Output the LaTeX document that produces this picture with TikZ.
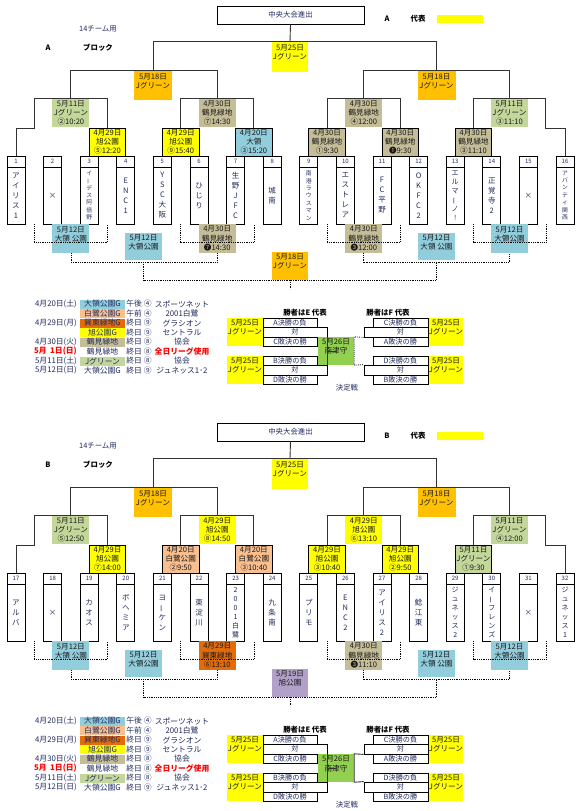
\documentclass[tikz,border=0pt]{standalone}
\usepackage{fontspec}
\setmainfont{Noto Sans CJK JP}
\usetikzlibrary{calc}

\definecolor{cyellow}{HTML}{FFFF00}
\definecolor{corange}{HTML}{FFC000}
\definecolor{cgreen}{HTML}{C4D79B}
\definecolor{ctan}{HTML}{C4BD97}
\definecolor{cblue}{HTML}{92CDDC}
\definecolor{cpeach}{HTML}{FABF8F}
\definecolor{cdorange}{HTML}{E26B0A}
\definecolor{cpurple}{HTML}{B1A0C7}
\definecolor{cfinal}{HTML}{92D050}
\definecolor{cnavy}{HTML}{1F2A5C}
\definecolor{cred}{HTML}{FF0000}

% team names are set top to bottom, one character per line
\newcommand\vchar[1]{\ifx#1ー\rotatebox[origin=c]{90}{ー}\else#1\fi}
\def\vnameA#1{\ifx#1\relax\else\hbox to 14pt{\hss\vchar#1\hss}\expandafter\vnameA\fi}
\newcommand\vname[2]{\vbox{\baselineskip=#1pt\lineskiplimit=-20pt\lineskip=0pt\expandafter\vnameA#2\relax}}

\begin{document}
\begin{tikzpicture}[
    x=1pt, y=-1pt,
    bracket line/.style={draw=black!80, line width=0.9pt},
    cons line/.style={draw=black, line width=0.8pt, densely dotted},
    box text/.style={inner sep=0pt, align=center, text=black!90, font=\fontsize{7.6}{9.3}\selectfont},
    match box/.style={box text, draw=black, line width=0.8pt, minimum width=36.6pt, minimum height=28pt},
    round box/.style={box text, minimum width=37pt, minimum height=28pt},
    team num/.style={draw=black, line width=0.8pt, inner sep=0pt, minimum width=18pt, minimum height=11pt, text=cnavy, font=\fontsize{6}{6}\selectfont},
    team name/.style={draw=black, line width=0.8pt, inner sep=0pt, minimum width=18pt, minimum height=57pt, text=cnavy},
    plain text/.style={inner sep=0pt, text=cnavy, font=\fontsize{7.4}{8}\selectfont},
    bold text/.style={inner sep=0pt, text=black, font=\fontsize{7.4}{8}\selectfont\bfseries},
    leg text/.style={inner sep=0pt, text=cnavy, font=\fontsize{7.8}{8}\selectfont},
    leg venue/.style={leg text, minimum width=45pt, minimum height=9pt},
    fin box/.style={draw=black, line width=0.8pt, inner sep=0pt, minimum width=54pt, minimum height=9pt, text=cnavy, font=\fontsize{7.2}{7.2}\selectfont},
    date box/.style={box text, fill=cyellow, minimum width=36pt, minimum height=27.5pt}
]
\useasboundingbox (0,0) rectangle (579,811);

\def\legendlist{4月20日(土)/大領公園G/cblue/午後 ④/スポーツネット,
    /白鷺公園G/cpeach/午前 ④/2001白鷺,
    4月29日(月)/巽東緑地G/cdorange/終日 ⑨/グラシオン,
    /旭公園G/cyellow/終日 ⑨/セントラル,
    4月30日(火)/鶴見緑地/ctan/終日 ⑧/協会,
    {\color{cred}\bfseries 5月\ \ 1日(日)}/鶴見緑地/white/終日 ⑧/{\color{cred}\bfseries 全日リーグ使用},
    5月11日(土)/Jグリーン/cgreen/終日 ⑧/協会,
    5月12日(日)/大領公園G/white/終日 ⑨/ジュネッス1･2}

\def\drawblock#1#2#3{%
    % Header
    \node[draw=black, line width=1pt, minimum width=147pt, minimum height=18pt, plain text] (#1title) at (290.5,15) {中央大会進出};
    \node[plain text] (#1use) at (98,29) {14チーム用};
    \node[bold text] (#1name) at (48,48) {#1};
    \node[bold text] (#1blk) at (98,48) {ブロック};
    \node[bold text] (#1rname) at (387,19) {#1};
    \node[bold text] (#1rep) at (418,19) {代表};
    \node[fill=cyellow, inner sep=0pt, minimum width=46pt, minimum height=8pt] (#1repbox) at (460,19) {};

    % Teams
    \foreach \nm/\pitch/\fsz [count=\i] in \teamlist {
        \pgfmathsetmacro\xx{16+36.6*(\i-1)}
        \pgfmathtruncatemacro\num{\i+#2}
        \node[team num] (#1n\i) at (\xx,161.5) {\num};
        \node[team name] (#1t\i) at (\xx,195.5) {\fontsize{\fsz}{\pitch}\selectfont\vname{\pitch}{\nm}};
    }

    % Matches
    \foreach \k/\col/\txt in \matchlist {
        \pgfmathsetmacro\xx{16+36.6*(2*\k-1.5)}
        \node[match box, fill=\col] (#1m\k) at (\xx,142) {\txt};
    }
    \foreach \k/\xx/\col/\txt in \roundlist {
        \node[round box, fill=\col] (#1q\k) at (\xx,113) {\txt};
    }
    \foreach \k/\xx/\col/\txt in \conslist {
        \node[round box, fill=\col, minimum height=29pt] (#1c\k) at (\xx,238.5) {\txt};
    }
    \node[round box, fill=cblue, minimum height=27pt] (#1cm1) at (143.5,246.5) {5月12日\\大領公園\\\mbox{}};
    \node[round box, fill=cblue, minimum height=27pt] (#1cm2) at (436.5,246.5) {5月12日\\大領 公園\\\mbox{}};
    \node[round box, fill=\cfcol, minimum width=36pt] (#1cf) at (290,266) {\cftxt};
    \node[round box, fill=corange, minimum width=38pt, minimum height=29pt] (#1s1) at (153,85.5) {5月18日\\Jグリーン\\\mbox{}};
    \node[round box, fill=corange, minimum width=38pt, minimum height=29pt] (#1s2) at (436.5,85.5) {5月18日\\Jグリーン\\\mbox{}};
    \node[round box, fill=cyellow, minimum width=36pt, minimum height=30pt] (#1f) at (290,57) {5月25日\\Jグリーン\\\mbox{}};

    % Bracket
    \coordinate (#1j1) at (34.3,128);
    \coordinate (#1j2) at (545.9,128);
    \draw[bracket line] (#1n1.north) |- (#1j1) |- (#1q1.north) -| (#1m2.north);
    \draw[bracket line] (#1m3.north) |- (#1q2.north) -| (#1m4.north);
    \draw[bracket line] (#1m5.north) |- (#1q3.north) -| (#1m6.north);
    \draw[bracket line] (#1m7.north) |- (#1q4.north) -| (#1j2) -| (#1n16.north);
    \draw[bracket line] (#1q1.north) |- (#1s1.north) -| (#1q2.north);
    \draw[bracket line] (#1q3.north) |- (#1s2.north) -| (#1q4.north);
    \draw[bracket line] (#1s1.north) |- (#1f.north) -| (#1s2.north);
    \draw[bracket line] (#1f.north) -- (#1title.south);

    % Losers' bracket
    \draw[cons line] (#1j1 |- #1t1.south) -- ++(0,18) -| (#1m2 |- #1t1.south);
    \draw[cons line] (#1m3 |- #1t1.south) -- ++(0,18) -| (#1m4 |- #1t1.south);
    \draw[cons line] (#1m5 |- #1t1.south) -- ++(0,18) -| (#1m6 |- #1t1.south);
    \draw[cons line] (#1m7 |- #1t1.south) -- ++(0,18) -| (#1j2 |- #1t1.south);
    \draw[cons line] (#1c1.south) -- ++(0,9) -| (#1c2.south);
    \draw[cons line] (#1c3.south) -- ++(0,9) -| (#1c4.south);
    \coordinate (#1k1) at (143.5,262);
    \coordinate (#1k2) at (436.5,262);
    \draw[cons line] (#1k1) |- (#1cf.south) -| (#1k2);
    \draw[cons line] (#1cf.south) -- ++(0,9);

    % Schedule
    \foreach \dt/\vn/\col/\tm/\nt [count=\r] in \legendlist {
        \pgfmathsetmacro\yy{304+9.5*(\r-1)}
        \node[leg text, anchor=east] (#1ld\r) at (77,\yy) {\dt};
        \node[leg venue, fill=\col] (#1lv\r) at (102.5,\yy) {\vn};
        \node[leg text] (#1lt\r) at (139,\yy) {\tm};
        \node[leg text] (#1ln\r) at (182,\yy) {\nt};
    }

    % Deciding matches
    \node[bold text] (#1ewin) at (305,313) {勝者はE 代表};
    \node[bold text] (#1fwin) at (388,313) {勝者はF 代表};
    \foreach \g/\yy/\ea/\eb/\fa/\fb in {1/318/A決勝の負/C敗決の勝/C決勝の負/A敗決の勝, 2/356/B決勝の負/D敗決の勝/D決勝の負/B敗決の勝} {
        \node[date box] (#1ed\g) at (245,\yy+13.75) {5月25日\\Jグリーン\\\mbox{}};
        \node[date box, minimum width=34pt] (#1fd\g) at (446,\yy+13.75) {5月25日\\Jグリーン\\\mbox{}};
        \node[fin box] (#1ea\g) at (290,\yy+4.5) {\ea};
        \node[fin box, minimum width=64pt, minimum height=10pt] (#1ev\g) at (295,\yy+14) {対\hspace{10pt}};
        \node[fin box] (#1eb\g) at (290,\yy+23.5) {\eb};
        \node[fin box, minimum width=55pt] (#1fa\g) at (400.5,\yy+4.5) {\fa};
        \node[fin box, minimum width=64pt, minimum height=10pt] (#1fv\g) at (396,\yy+14) {\hspace{9pt}対};
        \node[fin box, minimum width=55pt] (#1fb\g) at (400.5,\yy+23.5) {\fb};
    }
    \node[box text, fill=cfinal, minimum width=36pt, minimum height=28pt] (#1fin) at (336,351) {5月26日\\南津守\\\mbox{}};
    \draw[bracket line] (#1ev1.south east) -- (#1ev2.north east);
    \draw[bracket line] (#1ev1.east |- #1fin.center) -- (#1fin.center);
    \draw[bracket line, #3] (#1fv1.south west) -- (#1fin.north east) -- (#1fin.south east) -- (#1fv2.north west);
    \node[plain text] (#1deci) at (347,388) {決定戦};
}

% Block A
\begin{scope}
    \def\teamlist{アイリス1/10/7.5, ×/10/7.5, イーデス阿倍野/7.4/5.8, ENC1/10/7.5, YSC大阪/10/7.5, ひじり/10/7.5, 生野JFC/10/7.5, 城南/10/7.5,
        南港ラウスマン/7.4/5.8, エストレア/10/7.5, FC平野/10/7.5, OKFC2/10/7.5, エルマーノ!/9/7, 正覚寺2/10/7.5, ×/10/7.5, アバンティ関西/7.4/5.8}
    \def\matchlist{2/cyellow/{4月29日\\旭公園\\⑤12:20}, 3/cyellow/{4月29日\\旭公園\\⑨15:40}, 4/cblue/{4月20日\\大領\\③15:20},
        5/ctan/{4月30日\\鶴見緑地\\①9:30}, 6/ctan/{4月30日\\鶴見緑地\\❶9:30}, 7/ctan/{4月30日\\鶴見緑地\\③11:10}}
    \def\roundlist{1/70.9/cgreen/{5月11日\\Jグリーン\\②10:20}, 2/217.2/ctan/{4月30日\\鶴見緑地\\⑦14:30},
        3/363.8/ctan/{4月30日\\鶴見緑地\\④12:00}, 4/509.5/cgreen/{5月11日\\Jグリーン\\③11:10}}
    \def\conslist{1/70.9/cblue/{5月12日\\大領 公園\\\mbox{}}, 2/217.2/ctan/{4月30日\\鶴見緑地\\❼14:30},
        3/363.8/ctan/{4月30日\\鶴見緑地\\❸12:00}, 4/509.5/cblue/{5月12日\\大領公園\\\mbox{}}}
    \def\cfcol{corange}
    \def\cftxt{5月18日\\Jグリーン\\\mbox{}}
    \drawblock{A}{0}{densely dotted}
\end{scope}

% Block B
\begin{scope}[shift={(0,417)}]
    \def\teamlist{アルバ/10/7.5, ×/10/7.5, カオス/10/7.5, ボヘミア/10/7.5, ヨーケン/10/7.5, 東淀川/10/7.5, 2001白鷺/9/7, 九条南/10/7.5,
        プリモ/10/7.5, ENC2/10/7.5, アイリス2/10/7.5, 鯰江東/10/7.5, ジュネッス2/9/7, イーフレンズ/9/7, ×/10/7.5, ジュネッス1/9/7}
    \def\matchlist{2/cyellow/{4月29日\\旭公園\\⑦14:00}, 3/cpeach/{4月20日\\白鷺公園\\②9:50}, 4/cpeach/{4月20日\\白鷺公園\\③10:40},
        5/cyellow/{4月29日\\旭公園\\③10:40}, 6/cyellow/{4月29日\\旭公園\\②9:50}, 7/cgreen/{5月11日\\Jグリーン\\①9:30}}
    \def\roundlist{1/70.9/cgreen/{5月11日\\Jグリーン\\⑤12:50}, 2/217.2/cyellow/{4月29日\\旭公園\\⑧14:50},
        3/363.8/cyellow/{4月29日\\旭公園\\⑥13:10}, 4/509.5/cgreen/{5月11日\\Jグリーン\\④12:00}}
    \def\conslist{1/70.9/cblue/{5月12日\\大領 公園\\\mbox{}}, 2/217.2/cdorange/{4月29日\\巽東緑地\\⑥13:10},
        3/363.8/ctan/{4月30日\\鶴見緑地\\❸11:10}, 4/509.5/cblue/{5月12日\\大領公園\\\mbox{}}}
    \def\cfcol{cpurple}
    \def\cftxt{5月19日\\旭公園\\\mbox{}}
    \drawblock{B}{16}{solid}
\end{scope}
\end{tikzpicture}
\end{document}
